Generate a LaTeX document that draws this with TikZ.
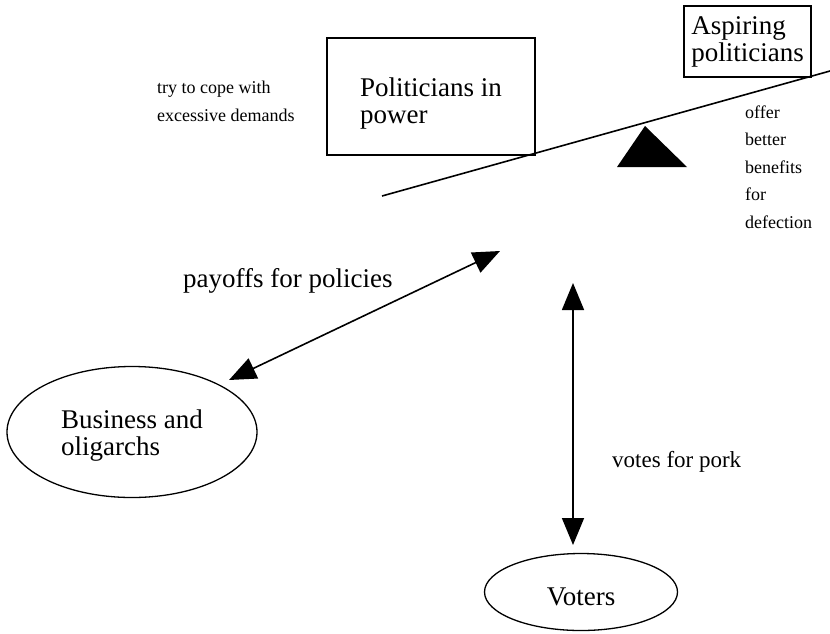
\documentclass[tikz,border=0pt]{standalone}
\usepackage{fontspec}
\setmainfont{Liberation Serif}
\usetikzlibrary{arrows.meta,shapes.geometric}
\tikzset{
    big/.style={font=\fontsize{27}{27}\selectfont},
    small/.style={font=\fontsize{18}{27.5}\selectfont},
    box/.style={draw,line width=1.6pt,rectangle,inner sep=0pt,big,align=left},
    oval/.style={draw,line width=1.3pt,ellipse,inner sep=0pt,big,align=left},
    txt/.style={anchor=base west,inner sep=0pt,align=left},
    twoway/.style={{Triangle[length=27pt,width=22pt]}-{Triangle[length=27pt,width=22pt]},line width=1.6pt}
}
\begin{document}
\begin{tikzpicture}[x=1pt,y=-1pt]
        \useasboundingbox (0,0) rectangle (830,633);
        \node[box,minimum width=208pt,minimum height=117pt] (power) at (431,96.5) {\rule{0pt}{33pt}Politicians in\\power};
        \node[box,minimum width=127pt,minimum height=71pt] (aspiring) at (747.5,41.5) {Aspiring\\politicians};
        \node[oval,minimum width=250pt,minimum height=131pt] (business) at (132,432) {\rule{0pt}{25pt}Business and\\oligarchs};
        \node[oval,minimum width=193pt,minimum height=77pt] (voters) at (581,592) {\rule{0pt}{28pt}Voters};
        \coordinate (leverl) at (382,196);
        \coordinate (leverr) at (830,71);
        \draw[line width=1.6pt] (leverl) -- (leverr);
        \fill (617,167) -- (645,126) -- (687,167) -- cycle;
        \coordinate (pay) at (500,251);
        \coordinate (busend) at (229,380);
        \coordinate (pork) at (573,283);
        \coordinate (porkend) at (573,545);
        \draw[twoway] (busend) -- (pay);
        \draw[twoway] (pork) -- (porkend);
        \node[txt,small] (cope) at (157,121) {try to cope with\\excessive demands};
        \node[txt,small] (offer) at (745,228) {offer\\better\\benefits\\for\\defection};
        \node[txt,big] (payoffs) at (183,287) {payoffs for policies};
        \node[txt,font=\fontsize{23}{28}\selectfont] (votes) at (612,467) {votes for pork};
    \end{tikzpicture}
\end{document}
